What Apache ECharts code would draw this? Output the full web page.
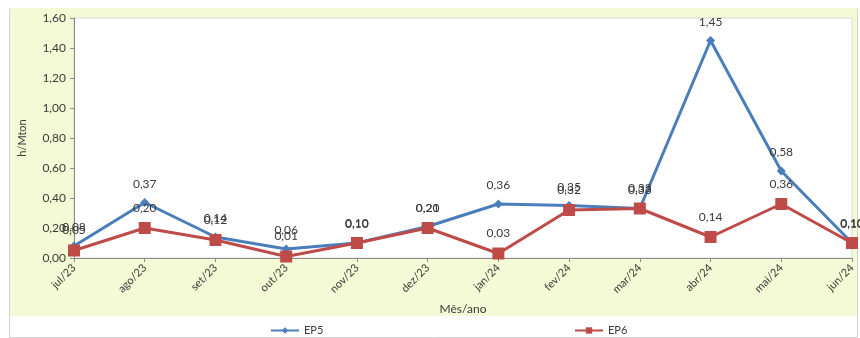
<!DOCTYPE html>
<html>
<head>
<meta charset="utf-8">
<script src="https://cdn.jsdelivr.net/npm/echarts@6/dist/echarts.min.js"></script>
<style>html,body{margin:0;padding:0;background:#fff}#c{width:860px;height:338px}</style>
</head>
<body>
<div id="c"></div>
<script>
const categories = ['jul/23','ago/23','set/23','out/23','nov/23','dez/23','jan/24','fev/24','mar/24','abr/24','mai/24','jun/24'];
const ep5 = [0.08,0.37,0.14,0.06,0.10,0.21,0.36,0.35,0.33,1.45,0.58,0.10];
const ep6 = [0.05,0.20,0.12,0.01,0.10,0.20,0.03,0.32,0.33,0.14,0.36,0.10];
const yTicks = [0,0.2,0.4,0.6,0.8,1.0,1.2,1.4,1.6];

const FONT = 'Lato, "Open Sans", sans-serif';
const TXT = '#3a3a3a';
const fmt = v => Number(v).toFixed(2).replace('.', ',');

const chart = echarts.init(document.getElementById('c'), null, {renderer:'canvas'});
chart.setOption({
  backgroundColor: '#ffffff',
  animation: false,
  textStyle: {fontFamily: FONT},
  graphic: [
    {type:'rect', z:-10, shape:{x:9.5,y:8.5,width:848,height:329}, style:{fill:'#ffffff', stroke:'#d4d4d4', lineWidth:1}},
    {type:'rect', z:-9, shape:{x:10,y:8,width:847,height:308}, style:{fill:'#f4fad5'}}
  ],
  grid: {left:74, right:8, top:18, bottom:80, show:true, backgroundColor:'#ffffff', borderColor:'#d9d9d9', borderWidth:1, containLabel:false},
  legend: [
    {data:['EP5'], left:265, top:320, itemWidth:28, itemHeight:8, itemGap:2, textStyle:{fontSize:11, color:TXT, fontFamily:FONT}},
    {data:['EP6'], left:569, top:320, itemWidth:28, itemHeight:8, itemGap:2, textStyle:{fontSize:11, color:TXT, fontFamily:FONT}}
  ],
  xAxis: {
    type:'category', data:categories, boundaryGap:false,
    name:'Mês/ano', nameLocation:'middle', nameGap:45,
    nameTextStyle:{fontSize:12, color:TXT, fontFamily:FONT},
    axisLine:{lineStyle:{color:'#8c8c8c'}},
    axisTick:{show:true, alignWithLabel:true, length:4, lineStyle:{color:'#8c8c8c'}},
    axisLabel:{rotate:45, fontSize:11, color:TXT, margin:8, fontFamily:FONT},
    splitLine:{show:false}
  },
  yAxis: {
    type:'value', min:yTicks[0], max:yTicks[yTicks.length-1], interval:0.2,
    name:'h/Mton', nameLocation:'middle', nameGap:46, nameRotate:90,
    nameTextStyle:{fontSize:11, color:TXT, fontFamily:FONT},
    axisLine:{show:true, lineStyle:{color:'#8c8c8c'}},
    axisTick:{show:true, length:4, lineStyle:{color:'#8c8c8c'}},
    axisLabel:{fontSize:12, color:TXT, formatter:v=>fmt(v), margin:8, fontFamily:FONT},
    splitLine:{show:false}
  },
  series: [
    {name:'EP5', type:'line', data:ep5, symbol:'diamond', symbolSize:9,
     lineStyle:{color:'#4a7ebb', width:3}, itemStyle:{color:'#4a7ebb'},
     label:{show:true, position:'top', distance:8, fontSize:12, color:TXT, formatter:p=>fmt(p.value), fontFamily:FONT}},
    {name:'EP6', type:'line', data:ep6, symbol:'rect', symbolSize:12,
     lineStyle:{color:'#be4b48', width:3}, itemStyle:{color:'#be4b48'},
     label:{show:true, position:'top', distance:8, fontSize:12, color:TXT, formatter:p=>fmt(p.value), fontFamily:FONT}}
  ]
});
</script>
</body>
</html>
